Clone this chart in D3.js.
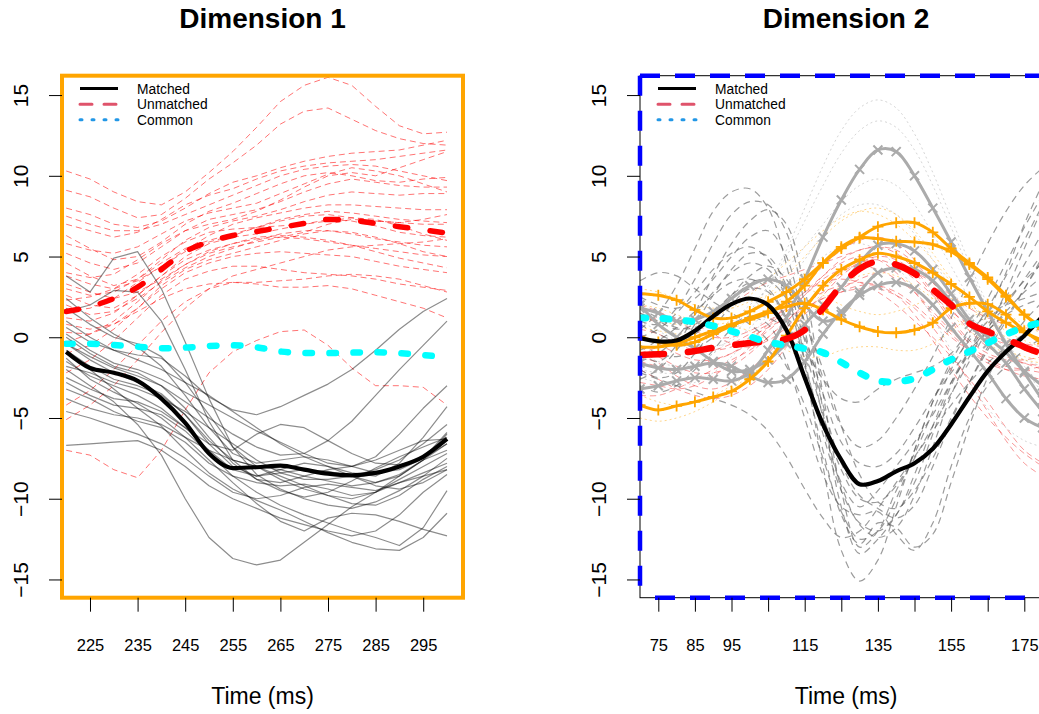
<!DOCTYPE html>
<html>
<head>
<meta charset="utf-8">
<script src="https://cdn.jsdelivr.net/npm/d3@7"></script>
<style>
  body { margin: 0; background: #fff; }
  text { font-family: "Liberation Sans", Arial, Helvetica, sans-serif; }
</style>
</head>
<body>
<svg id="chart" width="1039" height="714"></svg>
<script>
// ---- time grids (ms) and axis ticks ----
const timeD1 = [220, 225, 230, 235, 240, 245, 250, 255, 260, 265, 270, 275, 280, 285, 290, 295, 300];
const timeD2 = [70, 75, 80, 85, 90, 95, 100, 105, 110, 115, 120, 125, 130, 135, 140, 145, 150, 155, 160, 165, 170, 175, 180];
const yTicks = [-15, -10, -5, 0, 5, 10, 15];
const xTicksD1 = [225, 235, 245, 255, 265, 275, 285, 295];
const xLabelsD1 = [225, 235, 245, 255, 265, 275, 285, 295];
const xTicksD2 = [75, 85, 95, 105, 115, 125, 135, 145, 155, 165, 175];
const xLabelsD2 = [75, 85, 95, 115, 135, 155, 175];
const legendLabels = ["Matched", "Unmatched", "Common"];
const panelTitles = ["Dimension 1", "Dimension 2"];
const xTitle = "Time (ms)";

// ---- Dimension 1: individual matched trajectories ----
const d1Matched = [
  [3.8, 2.8, 4.9, 5.3, 3.0, -0.3, -3.8, -6.8, -8.5, -9.4, -10.0, -10.4, -10.6, -10.2, -9.5, -8.6, -7.5],
  [1.6, 2.0, 2.9, 2.8, 1.0, -2.0, -5.2, -7.6, -8.8, -9.5, -9.9, -9.6, -8.9, -8.1, -7.4, -6.8, -6.2],
  [0.6, -0.3, -0.8, -1.1, -1.3, -2.4, -3.7, -4.5, -4.8, -4.3, -3.6, -2.9, -2.0, -0.8, 0.5, 1.6, 2.4],
  [-0.4, -1.2, -1.9, -2.4, -3.0, -4.0, -5.0, -6.0, -6.8, -7.3, -7.2, -6.4, -5.2, -3.6, -2.0, -0.5, 1.0],
  [-2.0, -3.0, -4.0, -5.4, -7.3, -10.0, -12.4, -13.7, -14.1, -13.8, -12.7, -11.6, -10.5, -9.6, -9.0, -8.6, -8.2],
  [-1.0, -2.0, -3.2, -4.4, -5.5, -7.0, -8.4, -9.4, -10.1, -10.7, -11.4, -12.1, -12.7, -13.1, -13.2, -12.4, -10.9],
  [-1.3, -2.6, -3.4, -4.1, -5.0, -6.2, -7.6, -9.0, -10.3, -11.4, -12.0, -11.2, -10.9, -11.0, -11.4, -11.9, -12.3],
  [-6.7, -6.6, -6.5, -6.4, -7.0, -8.0, -9.2, -10.0, -10.6, -11.2, -11.6, -12.0, -12.3, -12.0, -11.0, -9.6, -8.5],
  [-1.5, -2.4, -3.0, -3.6, -4.4, -5.6, -6.6, -7.0, -6.0, -5.4, -5.6, -6.4, -7.2, -7.8, -7.9, -7.5, -6.6],
  [0.2, -0.8, -1.6, -2.0, -2.6, -3.4, -4.2, -5.0, -5.8, -6.5, -7.2, -7.8, -8.0, -7.4, -6.0, -4.4, -3.0],
  [-2.5, -3.2, -3.8, -4.0, -4.6, -5.6, -7.0, -8.2, -8.6, -8.4, -8.2, -8.3, -8.6, -9.0, -8.6, -7.6, -6.0],
  [-3.2, -3.8, -4.6, -5.2, -5.6, -6.5, -7.8, -8.6, -9.0, -9.2, -9.1, -9.4, -9.8, -9.6, -8.8, -8.0, -7.2],
  [-4.6, -5.0, -5.5, -6.0, -6.6, -7.5, -8.6, -9.6, -10.0, -9.8, -9.3, -9.1, -9.3, -9.5, -9.0, -8.4, -7.8],
  [2.4, 1.2, 0.2, -0.6, -1.8, -3.6, -5.6, -7.2, -7.8, -7.6, -7.4, -7.6, -8.0, -8.4, -8.2, -7.5, -5.9],
  [1.0, 0.0, -0.8, -1.4, -2.0, -2.8, -3.6, -4.6, -5.6, -6.6, -7.4, -8.0, -8.4, -8.6, -7.8, -6.2, -4.3],
  [-0.8, -1.8, -2.6, -3.0, -3.6, -4.8, -6.4, -7.6, -8.0, -8.2, -8.6, -8.9, -9.2, -9.0, -8.5, -7.6, -7.0],
  [-2.8, -3.6, -4.2, -4.4, -4.8, -5.8, -7.2, -8.6, -9.6, -10.4, -11.0, -11.5, -12.0, -12.4, -12.9, -11.8, -9.5],
  [-1.8, -2.2, -2.8, -3.2, -3.8, -4.6, -5.6, -6.6, -7.6, -8.4, -8.8, -8.8, -8.6, -8.2, -7.6, -6.6, -5.4],
  [-3.8, -4.4, -4.8, -5.0, -5.4, -6.2, -7.0, -7.6, -8.0, -8.6, -9.2, -9.8, -10.3, -10.4, -9.8, -8.8, -8.0],
  [0.0, -1.0, -1.8, -2.2, -3.0, -4.4, -6.2, -7.8, -8.8, -9.0, -8.6, -8.2, -8.0, -7.6, -7.0, -6.4, -6.3],
  [-0.4, -1.4, -2.2, -2.8, -3.5, -4.8, -6.6, -8.0, -8.6, -8.2, -7.8, -8.0, -8.6, -9.2, -9.4, -9.0, -8.2],
  [1.8, 0.8, 0.0, -0.4, -1.2, -2.8, -4.8, -6.8, -8.0, -8.8, -9.4, -9.8, -10.0, -9.6, -8.6, -7.6, -6.6]
];

// ---- Dimension 1: individual unmatched trajectories ----
const d1Unmatched = [
  [10.3, 9.8, 9.0, 8.4, 8.2, 9.0, 10.2, 11.5, 13.0, 14.6, 15.6, 16.1, 15.6, 14.3, 13.1, 12.6, 12.7],
  [9.1, 8.7, 8.0, 7.4, 7.6, 8.6, 9.8, 10.8, 11.9, 13.2, 14.0, 14.2, 13.5, 12.8, 12.3, 12.0, 11.9],
  [8.0, 7.6, 7.0, 6.8, 7.2, 8.0, 8.9, 9.6, 10.0, 10.5, 10.9, 11.2, 11.4, 11.5, 11.6, 11.9, 12.2],
  [7.0, 6.6, 6.2, 6.5, 7.3, 8.2, 8.8, 9.2, 9.8, 10.3, 10.6, 10.8, 10.9, 11.0, 11.2, 11.4, 11.6],
  [6.3, 5.5, 4.8, 5.0, 5.9, 7.0, 7.8, 8.3, 8.9, 9.5, 10.0, 10.2, 10.0, 9.7, 9.6, 9.8, 9.9],
  [5.2, 4.6, 4.2, 4.6, 5.6, 6.6, 7.3, 7.6, 7.9, 8.4, 9.0, 9.5, 9.8, 9.6, 9.4, 9.3, 9.3],
  [4.6, 3.8, 3.2, 3.6, 4.8, 6.0, 6.8, 7.2, 7.5, 7.9, 8.4, 8.8, 9.0, 8.9, 8.8, 8.9, 8.9],
  [3.8, 3.3, 3.0, 3.5, 4.4, 5.4, 6.3, 7.0, 7.4, 7.7, 8.0, 8.2, 8.2, 8.1, 8.0, 7.9, 7.9],
  [3.0, 2.6, 2.8, 3.6, 4.6, 5.5, 6.0, 6.4, 6.8, 7.2, 7.5, 7.6, 7.4, 7.2, 7.1, 7.0, 7.0],
  [2.6, 2.0, 1.8, 2.6, 3.8, 5.0, 5.8, 6.2, 6.4, 6.7, 7.0, 7.3, 7.2, 6.9, 6.5, 6.3, 6.2],
  [2.0, 1.4, 1.6, 2.4, 3.4, 4.3, 5.0, 5.5, 6.0, 6.4, 6.6, 6.6, 6.4, 6.1, 5.9, 5.7, 5.6],
  [1.2, 1.0, 1.5, 2.6, 3.8, 4.8, 5.4, 5.8, 6.1, 6.2, 6.1, 5.9, 5.7, 5.5, 5.3, 5.1, 5.0],
  [0.3, 0.2, 0.8, 1.8, 3.0, 4.0, 4.6, 5.0, 5.2, 5.3, 5.2, 5.1, 5.0, 4.7, 4.4, 4.2, 4.0],
  [-2.2, -1.4, -0.2, 1.2, 2.6, 3.6, 4.1, 4.4, 4.4, 4.2, 4.0, 3.9, 3.8, 3.6, 3.3, 3.1, 2.9],
  [-4.2, -3.3, -2.0, -0.5, 1.0, 2.2, 3.0, 3.4, 3.3, 3.1, 3.1, 3.2, 3.0, 2.6, 2.2, 1.8, 1.2],
  [-7.0, -7.3, -8.2, -8.7, -7.0, -4.5, -2.2, -0.9, -0.2, 0.35, 0.45, -0.5, -1.9, -3.0, -3.0, -3.1, -4.2],
  [-5.1, -4.2, -3.0, -1.4, 0.3, 1.8, 3.0, 3.8, 4.2, 4.6, 5.0, 5.4, 5.6, 5.7, 5.8, 5.9, 6.1],
  [5.8, 5.4, 5.2, 5.6, 6.4, 7.2, 7.7, 8.0, 8.3, 8.9, 9.5, 10.1, 10.5, 10.3, 10.0, 9.5, 9.0],
  [4.0, 3.7, 3.9, 4.8, 5.8, 6.6, 7.0, 7.3, 7.8, 8.5, 9.3, 10.0, 10.2, 10.0, 10.5, 11.0, 11.5],
  [1.6, 1.8, 2.4, 3.4, 4.4, 5.3, 5.9, 6.3, 6.8, 7.3, 7.6, 7.8, 7.7, 7.5, 7.3, 7.2, 7.1],
  [2.3, 2.5, 3.0, 3.9, 5.0, 5.9, 6.5, 6.7, 6.8, 6.9, 7.0, 7.2, 7.4, 7.3, 6.9, 6.4, 6.0],
  [-1.0, -0.5, 0.5, 1.8, 3.2, 4.2, 4.8, 5.2, 5.6, 6.0, 6.4, 6.6, 6.5, 6.2, 5.8, 5.3, 5.0],
  [0.8, 0.5, 0.8, 1.6, 2.4, 3.0, 3.3, 3.4, 3.4, 3.5, 3.6, 3.8, 3.9, 3.8, 3.6, 3.2, 2.8],
  [7.5, 7.0, 6.6, 6.6, 7.0, 7.6, 8.2, 8.8, 9.4, 10.0, 10.4, 10.6, 10.7, 10.6, 10.3, 10.0, 9.7],
  [3.3, 2.8, 2.4, 2.8, 3.6, 4.5, 5.3, 5.8, 6.2, 6.3, 6.2, 6.0, 5.7, 5.3, 4.9, 4.6, 4.3],
  [-0.3, 0.2, 1.0, 2.2, 3.5, 4.5, 5.2, 5.6, 5.9, 6.2, 6.5, 7.0, 7.3, 7.2, 7.1, 7.3, 7.6]
];

// ---- Dimension 1: group curves ----
const d1MatchedMean = [-0.9, -1.9, -2.2, -2.7, -3.8, -5.3, -7.2, -8.1, -8.05, -7.95, -8.2, -8.45, -8.55, -8.4, -8.0, -7.4, -6.3];
const d1UnmatchedMean = [1.6, 1.9, 2.4, 3.1, 4.2, 5.3, 5.9, 6.3, 6.55, 6.8, 7.05, 7.3, 7.25, 7.05, 6.85, 6.65, 6.45];
const d1Common = [-0.4, -0.4, -0.48, -0.58, -0.68, -0.64, -0.54, -0.5, -0.62, -0.88, -0.98, -0.98, -0.95, -0.93, -0.98, -1.1, -1.25];

// ---- Dimension 2: faint dotted trajectories ----
const d2FaintGray = [
  [-1.0, -1.5, -1.8, -1.6, -1.0, 0.0, 1.4, 3.2, 5.4, 8.0, 10.6, 12.8, 14.2, 14.7, 14.2, 12.6, 10.2, 7.4, 4.6, 2.0, -0.2, -2.0, -3.4],
  [-2.0, -2.2, -2.2, -1.8, -1.0, 0.2, 1.6, 3.2, 5.0, 7.2, 9.4, 11.4, 12.8, 13.4, 13.0, 11.6, 9.4, 6.8, 4.2, 1.8, -0.2, -1.8, -3.0],
  [0.0, -0.4, -0.6, -0.4, 0.2, 1.0, 2.0, 3.0, 4.2, 5.6, 7.0, 8.4, 9.4, 9.8, 9.4, 8.2, 6.4, 4.4, 2.4, 0.6, -0.8, -2.0, -2.8],
  [1.0, 0.4, -0.2, -0.6, -0.6, -0.2, 0.6, 1.8, 3.2, 4.8, 6.4, 7.6, 8.2, 8.2, 7.6, 6.4, 4.8, 3.0, 1.4, 0.2, -0.8, -1.4, -1.8],
  [-2.5, -2.8, -3.0, -2.8, -2.2, -1.2, 0.0, 1.4, 2.8, 4.0, 5.0, 5.6, 5.8, 5.4, 4.4, 3.0, 1.2, -0.8, -2.8, -4.4, -5.6, -6.4, -6.8]
];
const d2FaintOrange = [
  [2.0, 1.8, 1.4, 1.0, 0.8, 1.0, 1.6, 2.6, 3.8, 5.0, 6.2, 7.2, 7.8, 8.0, 7.6, 6.6, 5.2, 3.6, 2.2, 1.0, 0.0, -0.6, -1.0],
  [-3.6, -4.0, -4.2, -4.0, -3.6, -3.0, -2.2, -1.2, 0.0, 1.4, 2.8, 4.0, 4.8, 5.2, 5.0, 4.4, 3.4, 2.2, 1.0, 0.0, -0.8, -1.2, -1.4],
  [0.6, 0.4, 0.2, 0.2, 0.4, 0.6, 0.4, -0.2, -0.8, -1.2, -1.2, -0.8, -0.6, -0.6, -0.8, -0.8, -0.4, 0.4, 1.2, 1.6, 1.4, 0.8, 0.2],
  [-5.0, -5.2, -5.0, -4.6, -4.0, -3.2, -2.4, -1.4, -0.2, 1.0, 2.2, 3.2, 3.8, 4.0, 3.8, 3.2, 2.4, 1.4, 0.4, -0.4, -1.0, -1.4, -1.6],
  [1.2, 1.0, 0.8, 0.8, 1.2, 1.8, 2.6, 3.6, 4.6, 5.6, 6.6, 7.4, 7.8, 7.6, 7.0, 6.0, 4.8, 3.4, 2.0, 0.8, -0.2, -0.8, -1.2],
  [3.0, 2.8, 2.4, 2.0, 1.8, 1.8, 2.2, 2.6, 3.0, 3.0, 2.6, 2.0, 1.6, 1.4, 1.6, 2.0, 2.4, 2.4, 2.0, 1.2, 0.4, -0.2, -0.6]
];

// ---- Dimension 2: individual unmatched trajectories ----
const d2Unmatched = [
  [-1.5, -1.8, -2.0, -1.8, -1.4, -1.0, -0.4, 0.4, 1.4, 2.6, 3.8, 4.8, 5.4, 5.6, 5.2, 4.2, 2.8, 1.2, -0.2, -1.0, -1.4, -1.6, -1.8],
  [0.5, 0.2, -0.4, -0.8, -0.8, -0.4, 0.2, 0.8, 1.6, 2.6, 3.6, 4.2, 4.4, 4.2, 3.6, 2.8, 1.6, 0.4, -0.6, -1.2, -1.4, -1.4, -1.2],
  [-2.8, -3.0, -3.2, -3.0, -2.4, -1.6, -0.6, 0.6, 1.8, 2.8, 3.4, 3.6, 3.4, 2.8, 2.0, 1.0, 0.0, -1.2, -2.6, -4.0, -5.6, -7.0, -7.8],
  [2.0, 1.6, 1.0, 0.4, 0.0, 0.0, 0.4, 1.0, 1.8, 2.8, 3.8, 4.6, 5.0, 4.8, 4.0, 2.8, 1.4, 0.2, -0.8, -1.6, -2.0, -2.0, -1.8],
  [-0.6, -1.2, -1.8, -2.2, -2.2, -1.8, -1.0, 0.0, 1.0, 1.8, 2.4, 2.8, 3.0, 3.0, 2.6, 1.8, 0.6, -1.0, -2.8, -4.6, -6.4, -7.8, -8.6],
  [1.0, 1.2, 1.2, 0.8, 0.2, -0.4, -0.6, -0.2, 0.6, 1.8, 3.0, 4.0, 4.6, 4.8, 4.4, 3.6, 2.6, 1.6, 0.8, 0.2, -0.2, -0.4, -0.6],
  [-1.0, -0.6, -0.2, 0.4, 1.2, 2.0, 2.8, 3.4, 3.8, 4.2, 4.6, 5.0, 5.4, 5.6, 5.4, 4.6, 3.4, 2.0, 0.8, 0.0, -0.4, -0.6, -0.8],
  [-2.0, -2.6, -3.2, -3.6, -3.8, -3.6, -3.0, -2.0, -0.6, 0.8, 2.0, 2.8, 3.2, 3.2, 2.8, 2.0, 1.0, 0.0, -0.8, -1.4, -1.8, -2.0, -2.2],
  [0.2, -0.4, -1.0, -1.4, -1.4, -1.0, -0.2, 0.8, 2.0, 3.2, 4.4, 5.4, 6.0, 6.2, 5.8, 4.8, 3.4, 1.8, 0.4, -0.6, -1.2, -1.6, -2.0],
  [-3.6, -3.6, -3.2, -2.6, -2.0, -1.4, -0.8, 0.0, 1.0, 2.0, 2.8, 3.2, 3.4, 3.2, 2.6, 1.4, -0.2, -2.0, -3.6, -5.0, -6.2, -7.2, -8.0],
  [1.5, 0.8, 0.0, -0.6, -0.8, -0.6, 0.0, 0.6, 1.2, 1.8, 2.4, 3.0, 3.6, 4.0, 4.2, 4.0, 3.4, 2.6, 1.8, 1.2, 0.8, 0.6, 0.4],
  [-1.2, -1.6, -2.4, -3.0, -3.2, -2.8, -2.0, -1.0, 0.2, 1.4, 2.6, 3.8, 4.6, 5.0, 4.8, 4.0, 2.6, 1.0, -0.4, -1.4, -2.0, -2.4, -2.6]
];

// ---- Dimension 2: individual matched trajectories ----
const d2Matched = [
  [0.5, 1.5, 3.2, 5.5, 7.8, 9.0, 9.2, 8.0, 4.5, -1.5, -8.0, -13.2, -15.1, -13.8, -10.5, -7.0, -4.0, -1.8, -0.2, 1.0, 2.5, 4.5, 6.5],
  [1.0, 0.8, 1.8, 3.6, 5.8, 7.6, 8.4, 8.2, 6.5, 2.0, -4.5, -10.5, -13.4, -12.5, -11.0, -9.0, -6.0, -3.0, -0.8, 1.5, 4.0, 7.0, 9.5],
  [-1.0, -1.5, -0.5, 1.5, 3.8, 5.8, 7.2, 7.9, 7.0, 3.0, -3.5, -9.5, -13.0, -12.0, -9.5, -7.5, -5.5, -3.5, -1.5, 0.5, 2.8, 5.5, 8.0],
  [2.5, 2.0, 1.8, 2.4, 3.6, 5.0, 6.2, 6.6, 5.0, 0.5, -5.0, -9.0, -10.5, -9.5, -8.0, -6.5, -4.8, -2.8, -1.0, 0.6, 2.0, 3.6, 5.2],
  [-2.0, -2.5, -2.2, -1.0, 0.5, 2.0, 3.0, 2.8, 1.0, -2.5, -7.0, -11.0, -12.8, -11.5, -11.8, -13.0, -12.2, -9.0, -5.5, -2.5, -0.5, 1.0, 2.2],
  [-3.0, -3.4, -3.0, -2.0, -0.8, 0.5, 1.2, 0.8, -1.5, -5.0, -8.5, -10.5, -11.0, -10.8, -12.2, -13.2, -11.5, -8.0, -5.0, -3.0, -1.8, -0.8, 0.0],
  [0.0, 0.5, 1.5, 2.8, 4.2, 5.2, 5.6, 4.8, 2.5, -1.5, -6.0, -9.5, -11.5, -12.0, -11.0, -8.5, -5.5, -2.8, -0.8, 0.8, 2.2, 3.5, 4.6],
  [1.5, 1.0, 0.5, 0.8, 1.6, 2.6, 3.4, 3.5, 2.4, 0.0, -3.5, -6.5, -7.8, -8.0, -7.2, -5.6, -3.8, -2.2, -0.8, 0.4, 1.6, 2.8, 3.8],
  [-1.5, -1.0, 0.0, 1.4, 2.8, 4.0, 4.6, 4.2, 2.5, -0.8, -4.8, -8.2, -10.0, -10.2, -9.2, -7.2, -4.6, -2.0, 0.0, 1.8, 3.8, 6.0, 8.2],
  [0.8, 0.2, -0.2, 0.2, 1.2, 2.4, 3.3, 3.6, 3.0, 1.0, -2.0, -5.5, -8.5, -10.2, -10.6, -9.5, -7.5, -5.0, -2.8, -0.8, 1.0, 3.0, 5.0],
  [-0.5, -1.0, -1.2, -0.8, 0.0, 0.8, 1.3, 1.2, 0.5, -0.8, -2.6, -3.8, -4.0, -3.2, -2.6, -2.2, -1.8, -1.0, 0.5, 2.4, 4.6, 6.8, 8.8],
  [3.5, 4.0, 3.8, 3.0, 2.2, 1.5, 0.8, -0.2, -1.8, -4.2, -7.5, -10.8, -12.5, -12.0, -10.0, -7.0, -4.0, -1.5, 0.3, 1.4, 2.0, 2.4, 2.8],
  [-2.6, -2.0, -0.8, 0.8, 2.6, 4.2, 5.2, 5.0, 3.2, -0.2, -4.2, -7.8, -9.8, -10.6, -11.2, -10.4, -8.0, -5.2, -2.8, -0.6, 1.2, 3.0, 4.8],
  [1.8, 1.2, 0.6, 0.6, 1.4, 2.6, 3.8, 4.4, 3.6, 1.0, -2.5, -5.5, -6.8, -6.4, -5.0, -3.2, -1.2, 1.2, 3.5, 5.8, 7.8, 9.4, 10.5],
  [-0.8, -0.2, 0.6, 1.6, 2.6, 3.4, 3.6, 3.0, 1.2, -1.8, -5.6, -9.2, -11.6, -12.4, -11.8, -9.8, -6.8, -3.6, -1.2, 0.4, 1.4, 2.0, 2.4],
  [-2.2, -2.6, -3.0, -3.4, -3.8, -4.2, -4.8, -5.8, -7.4, -9.4, -11.2, -12.4, -12.0, -10.6, -9.0, -7.4, -5.8, -4.2, -2.8, -1.6, -0.6, 0.2, 0.8]
];

// ---- Dimension 2: highlighted trajectories (marked with symbols) ----
const d2HighlightGray = [
  [-3.2, -3.0, -2.7, -2.5, -2.6, -2.7, -2.2, -0.8, 1.2, 3.6, 6.2, 8.5, 10.4, 11.6, 11.5, 10.0, 8.0, 5.9, 3.7, 1.6, -0.4, -2.2, -3.9],
  [2.0, 0.8, 0.0, -0.7, -1.5, -2.1, -2.0, -1.4, -0.4, 0.8, 2.0, 3.1, 4.6, 5.7, 5.8, 5.35, 4.2, 2.7, 1.1, 0.0, -0.95, -2.1, -3.0],
  [1.8, 1.5, 1.0, 1.1, 1.6, 2.4, 3.2, 3.6, 3.2, 2.0, 1.0, 1.4, 2.8, 4.0, 4.3, 4.2, 3.5, 2.2, 0.8, -0.4, -1.6, -3.2, -4.6],
  [-1.6, -1.9, -2.0, -1.8, -1.6, -1.8, -2.4, -2.8, -2.6, -1.5, 0.2, 1.6, 2.6, 3.2, 3.4, 3.0, 2.0, 0.6, -0.8, -2.2, -3.8, -5.0, -5.6]
];
const d2HighlightOrange = [
  [2.7, 2.6, 2.3, 1.7, 1.2, 1.2, 1.6, 2.2, 2.8, 3.6, 4.6, 5.5, 6.2, 6.85, 7.1, 7.1, 6.5, 5.5, 4.6, 3.7, 2.6, 1.4, 0.5],
  [-0.6, -0.6, -0.4, 0.0, 0.4, 0.8, 1.1, 1.5, 2.2, 3.2, 4.6, 5.6, 6.15, 6.1, 5.95, 5.9, 5.75, 5.3, 4.5, 3.6, 2.5, 1.4, 0.6],
  [0.0, -0.3, -0.5, -0.3, 0.2, 0.7, 1.2, 1.6, 1.9, 2.1, 1.7, 1.1, 0.65, 0.35, 0.28, 0.45, 0.9, 1.8, 2.1, 2.05, 1.4, 0.4, -0.4],
  [-4.2, -4.5, -4.25, -4.0, -3.7, -3.35, -2.6, -1.5, 0.1, 1.8, 3.2, 4.2, 4.8, 5.2, 5.0, 4.6, 4.0, 3.3, 2.5, 1.6, 0.9, 0.3, -0.2]
];

// ---- Dimension 2: group curves ----
const d2MatchedMean = [-0.05, -0.25, -0.2, 0.4, 1.3, 2.05, 2.4, 2.0, 0.45, -2.5, -5.4, -7.6, -9.1, -8.9, -8.3, -7.8, -6.9, -5.4, -3.7, -2.1, -0.9, 0.1, 1.3];
const d2UnmatchedMean = [-1.1, -1.05, -1.0, -0.85, -0.65, -0.5, -0.35, -0.25, -0.1, 0.45, 1.8, 3.2, 4.25, 4.7, 4.5, 3.95, 2.95, 2.0, 0.85, 0.35, -0.1, -0.6, -1.05];
const d2Common = [1.2, 1.18, 1.08, 0.95, 0.7, 0.38, 0.04, -0.3, -0.5, -0.7, -0.95, -1.55, -2.2, -2.7, -2.75, -2.55, -2.0, -1.38, -0.88, -0.35, 0.18, 0.62, 0.95];

// ---- layout ----
const svg = d3.select("#chart");
const plotTop = 75.7, plotBottom = 597.7;
const y = d3.scaleLinear().domain([-16.13, 16.2]).range([plotBottom, plotTop]);

function makePanel(id, left, right, domain) {
  const x = d3.scaleLinear().domain(domain).range([left, right]);
  svg.append("clipPath").attr("id", id)
    .append("rect").attr("x", left).attr("y", plotTop)
    .attr("width", right - left).attr("height", plotBottom - plotTop);
  const g = svg.append("g");
  const plot = g.append("g").attr("clip-path", `url(#${id})`);
  return { x, g, plot, left, right };
}

function drawLines(p, times, series, style, curve) {
  const line = d3.line().x((d, i) => p.x(times[i])).y(d => y(d)).curve(curve);
  p.plot.append("g").selectAll("path").data(series).join("path")
    .attr("d", line)
    .attr("fill", "none")
    .attr("stroke", style.stroke)
    .attr("stroke-width", style.width)
    .attr("stroke-dasharray", style.dash || null)
    .attr("stroke-linecap", style.cap || "butt")
    .attr("stroke-linejoin", "round");
}

function drawMarkers(p, times, series, symbol, color, width) {
  const pts = series.flatMap(s => s.map((v, i) => [times[i], v]));
  p.plot.append("g").selectAll("path").data(pts).join("path")
    .attr("transform", d => `translate(${p.x(d[0])},${y(d[1])})`)
    .attr("d", symbol)
    .attr("fill", "none")
    .attr("stroke", color)
    .attr("stroke-width", width);
}

function drawAxes(p, ticks, labels, title) {
  const yAxis = d3.axisLeft(y).tickValues(yTicks).tickSizeInner(13).tickSizeOuter(0);
  const ya = p.g.append("g").attr("transform", `translate(${p.left},0)`).call(yAxis);
  ya.select(".domain").remove();
  ya.selectAll("line").attr("stroke", "#000");
  ya.selectAll("text")
    .attr("x", null).attr("dy", null).attr("y", null)
    .attr("text-anchor", "middle")
    .attr("transform", "translate(-34.5,0) rotate(-90)")
    .attr("font-size", 21)
    .attr("fill", "#000")
    .style("font-family", "'Liberation Sans', Arial, sans-serif");

  const xAxis = d3.axisBottom(p.x).tickValues(ticks).tickSizeInner(14).tickSizeOuter(0)
    .tickFormat(d => labels.includes(d) ? String(d) : "");
  const xa = p.g.append("g").attr("transform", `translate(0,${plotBottom})`).call(xAxis);
  xa.select(".domain").remove();
  xa.selectAll("line").attr("stroke", "#000");
  xa.selectAll("text")
    .attr("y", 53).attr("dy", null)
    .attr("font-size", 16.5)
    .attr("fill", "#000")
    .style("font-family", "'Liberation Sans', Arial, sans-serif");

  const cx = (p.left + p.right) / 2;
  p.g.append("text").attr("x", cx).attr("y", 28).attr("text-anchor", "middle")
    .attr("font-size", 28).attr("font-weight", "bold").text(title);
  p.g.append("text").attr("x", cx).attr("y", 704).attr("text-anchor", "middle")
    .attr("font-size", 23).text(xTitle);
}

function drawLegend(p) {
  const styles = [
    { stroke: "#000000", dash: null, cap: "butt" },
    { stroke: "#DF536B", dash: "12,12", cap: "round" },
    { stroke: "#2297E6", dash: "2,10", cap: "round" }
  ];
  const rows = [88.6, 104.2, 119.8];
  const lg = p.g.append("g");
  legendLabels.forEach((lab, i) => {
    lg.append("line")
      .attr("x1", p.left + 18).attr("x2", p.left + 56)
      .attr("y1", rows[i]).attr("y2", rows[i])
      .attr("stroke", styles[i].stroke).attr("stroke-width", 3)
      .attr("stroke-dasharray", styles[i].dash)
      .attr("stroke-linecap", styles[i].cap);
    lg.append("text").attr("x", p.left + 75).attr("y", rows[i] + 5)
      .attr("font-size", 13.8).attr("fill", "#000").text(lab);
  });
}

const thinRed = { stroke: "rgba(255,0,0,0.55)", width: 1, dash: "6,4" };
const thinGray = { stroke: "rgba(0,0,0,0.45)", width: 1.2 };

// ---- Dimension 1 ----
const p1 = makePanel("clip-d1", 62, 463, [219.12, 303.36]);
drawLines(p1, timeD1, d1Unmatched, thinRed, d3.curveLinear);
drawLines(p1, timeD1, d1Matched, thinGray, d3.curveLinear);
drawLines(p1, timeD1, [d1UnmatchedMean], { stroke: "#FF0000", width: 5.5, dash: "12.5,22.5", cap: "round" }, d3.curveMonotoneX);
drawLines(p1, timeD1, [d1MatchedMean], { stroke: "#000000", width: 4.2 }, d3.curveMonotoneX);
drawLines(p1, timeD1, [d1Common], { stroke: "#00FFFF", width: 6.5, dash: "6.5,17.5", cap: "round" }, d3.curveMonotoneX);
p1.g.append("rect").attr("x", 62).attr("y", plotTop).attr("width", 401).attr("height", plotBottom - plotTop)
  .attr("fill", "none").attr("stroke", "#FFA500").attr("stroke-width", 4);
drawAxes(p1, xTicksD1, xLabelsD1, panelTitles[0]);
drawLegend(p1);

// ---- Dimension 2 ----
const p2 = makePanel("clip-d2", 640, 1052, [70, 70 + 412 / 3.66]);
const smooth = d3.curveCatmullRom.alpha(0.5);
drawLines(p2, timeD2, d2FaintGray, { stroke: "rgba(150,150,150,0.4)", width: 1, dash: "2,3" }, smooth);
drawLines(p2, timeD2, d2FaintOrange, { stroke: "rgba(255,165,0,0.45)", width: 1, dash: "2,3" }, smooth);
drawLines(p2, timeD2, d2Unmatched, { stroke: "rgba(240,50,50,0.5)", width: 1, dash: "6,4" }, smooth);
drawLines(p2, timeD2, d2Matched, { stroke: "rgba(90,90,90,0.6)", width: 1.2, dash: "7,5" }, smooth);
drawLines(p2, timeD2, d2HighlightGray, { stroke: "#ABABAB", width: 3 }, smooth);
drawMarkers(p2, timeD2, d2HighlightGray, "M-4.5,-4.5L4.5,4.5M-4.5,4.5L4.5,-4.5", "#ABABAB", 2);
drawLines(p2, timeD2, d2HighlightOrange, { stroke: "#FFA500", width: 3 }, smooth);
drawMarkers(p2, timeD2, d2HighlightOrange, "M-5.5,0H5.5M0,-5.5V5.5", "#FFA500", 1.8);
drawLines(p2, timeD2, [d2MatchedMean], { stroke: "#000000", width: 4.2 }, smooth);
drawLines(p2, timeD2, [d2UnmatchedMean], { stroke: "#FF0000", width: 6.5, dash: "24,24", cap: "round" }, smooth);
drawLines(p2, timeD2, [d2Common], { stroke: "#00FFFF", width: 7, dash: "6,17", cap: "round" }, smooth);

// plot box: thin black frame under a dashed blue border
p2.g.append("rect").attr("x", 640).attr("y", plotTop).attr("width", 412).attr("height", plotBottom - plotTop)
  .attr("fill", "none").attr("stroke", "#000").attr("stroke-width", 1);
const blue = { stroke: "#0000FF", width: 4.5 };
[[640, plotTop, 1052, plotTop, 0], [640, plotTop, 640, plotBottom, 0], [640, plotBottom, 1052, plotBottom, 20]]
  .forEach(([x1, y1, x2, y2, off]) => {
    p2.g.append("line").attr("x1", x1).attr("y1", y1).attr("x2", x2).attr("y2", y2)
      .attr("stroke", blue.stroke).attr("stroke-width", blue.width)
      .attr("stroke-dasharray", "20,15").attr("stroke-dashoffset", off);
  });
drawAxes(p2, xTicksD2, xLabelsD2, panelTitles[1]);
drawLegend(p2);
</script>
</body>
</html>
